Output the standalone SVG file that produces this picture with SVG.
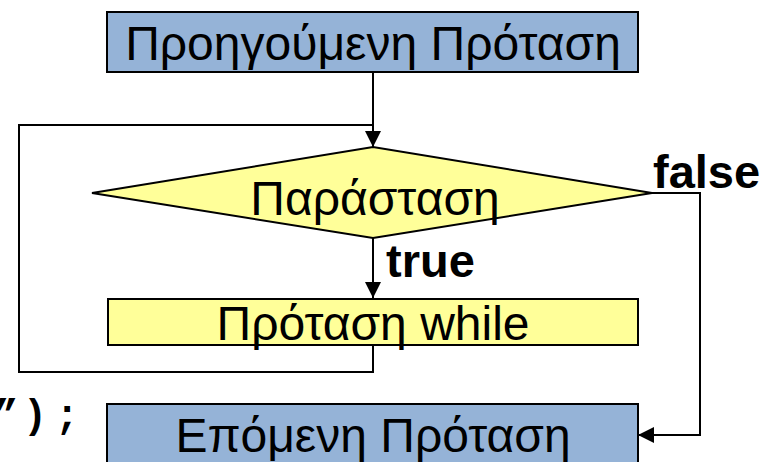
<svg xmlns="http://www.w3.org/2000/svg" width="775" height="462" viewBox="0 0 775 462">
<style>
.blue{fill:#95B3D7;stroke:#000;stroke-width:2}
.yellow{fill:#FFFF99;stroke:#000;stroke-width:2}
.lbl{font-family:"Liberation Sans",Arial,sans-serif;font-size:48px;fill:#000;text-anchor:middle}
.bold{font-family:"Liberation Sans",Arial,sans-serif;font-size:47px;font-weight:bold;fill:#000}
.conn{fill:none;stroke:#000;stroke-width:2}
.code{font-family:"Liberation Mono","Courier New",monospace;font-size:40px;font-weight:bold;fill:#000;text-anchor:middle}
</style>
<defs>
<marker id="arrow" viewBox="0 0 16 16" refX="16" refY="8" markerWidth="16" markerHeight="16" markerUnits="userSpaceOnUse" orient="auto">
<path d="M0,0 L16,8 L0,16 Z" fill="#000"/>
</marker>
</defs>
<rect width="775" height="462" fill="#fff"/>
<text class="code" x="6 35 67" y="428">”);</text>
<g id="connectors">
<path class="conn" d="M373,72 V147" marker-end="url(#arrow)"/>
<path class="conn" d="M373,345 V372 H19 V125 H373"/>
<path class="conn" d="M373,238 V298" marker-end="url(#arrow)"/>
<path class="conn" d="M652,193 H700 V435 H638" marker-end="url(#arrow)"/>
</g>
<g id="prev">
<rect class="blue" x="107" y="12" width="531" height="60"/>
<text class="lbl" x="373" y="60">Προηγούμενη Πρόταση</text>
</g>
<g id="cond">
<polygon class="yellow" points="92,193 373,147 652,193 373,238"/>
<text class="lbl" x="375" y="215">Παράσταση</text>
</g>
<g id="body">
<rect class="yellow" x="108" y="299" width="530" height="46"/>
<text class="lbl" x="373" y="340">Πρόταση while</text>
</g>
<g id="next">
<rect class="blue" x="107" y="404" width="531" height="70"/>
<text class="lbl" x="373" y="452">Επόμενη Πρόταση</text>
</g>
<g id="labels">
<text class="bold" x="386" y="277">true</text>
<text class="bold" x="653" y="188">false</text>
</g>
</svg>
